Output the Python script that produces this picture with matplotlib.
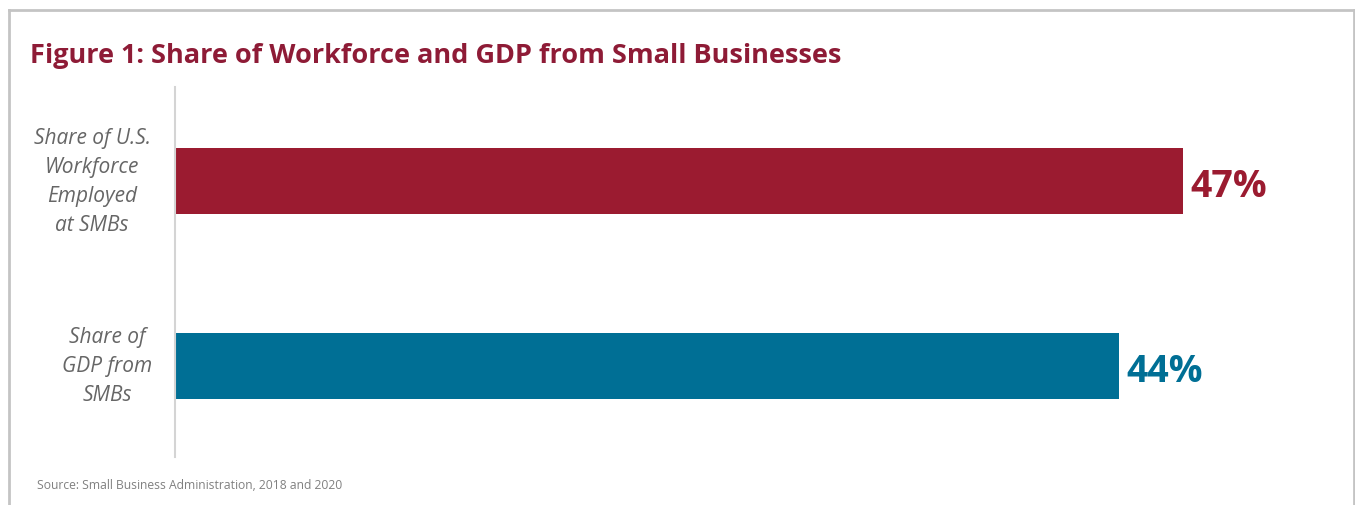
import matplotlib.pyplot as plt
from matplotlib.lines import Line2D
from matplotlib.transforms import blended_transform_factory

RED = "#9B1B30"
BLUE = "#006F95"
TITLE_RED = "#8E1B36"

categories = [
    "Share of U.S.\nWorkforce\nEmployed\nat SMBs",
    "Share of\nGDP from\nSMBs",
]
shares = [47, 44]
bar_colours = [RED, BLUE]
label_centres = [92, 107]

W, H = 1355, 506
fig = plt.figure(figsize=(W / 100, H / 100), dpi=100, facecolor="white")

# panel frame (open at the bottom)
for xs, ys in [((9 / W, 9 / W), (0, 1 - 11 / H)),
               ((9 / W, 1354 / W), (1 - 11 / H, 1 - 11 / H)),
               ((1354 / W, 1354 / W), (0, 1 - 11 / H))]:
    fig.add_artist(Line2D(xs, ys, color="#c4c4c4", lw=2, transform=fig.transFigure))

fig.text(30 / W, 1 - 63 / H, "Figure 1: Share of Workforce and GDP from Small Businesses",
         fontsize=19.5, fontweight="bold", color=TITLE_RED, family="Open Sans",
         ha="left", va="baseline")

ax = fig.add_axes([175 / W, (H - 458) / H, 1155 / W, 370 / H])
ypos = range(len(shares))
ax.barh(ypos, shares, height=0.357, color=bar_colours)
ax.set_xlim(0, 1155 / 21.45)
ax.set_ylim(1.492, -0.508)

for y, v, c in zip(ypos, shares, bar_colours):
    ax.text(v + 0.35, y + 0.025, f"{v}%", color=c, fontsize=27, fontweight="bold",
            family="Open Sans", ha="left", va="center")

# category labels, centred to the left of the axis
label_tf = blended_transform_factory(fig.transFigure, ax.transData)
for y, lab, cx in zip(ypos, categories, label_centres):
    ax.text(cx / W, y, lab, transform=label_tf,
            ha="center", va="center", fontsize=15, style="italic", color="#666666",
            family="Open Sans", linespacing=1.5)

for s in ["top", "right", "bottom"]:
    ax.spines[s].set_visible(False)
ax.spines["left"].set_color("#d4d4d4")
ax.spines["left"].set_linewidth(1.5)
ax.set_xticks([])
ax.set_yticks([])

fig.text(37 / W, 1 - 486 / H, "Source: Small Business Administration, 2018 and 2020",
         fontsize=8.7, color="#808080", family="Open Sans", ha="left", va="center")

fig.savefig("out.png", dpi=100, facecolor="white")
